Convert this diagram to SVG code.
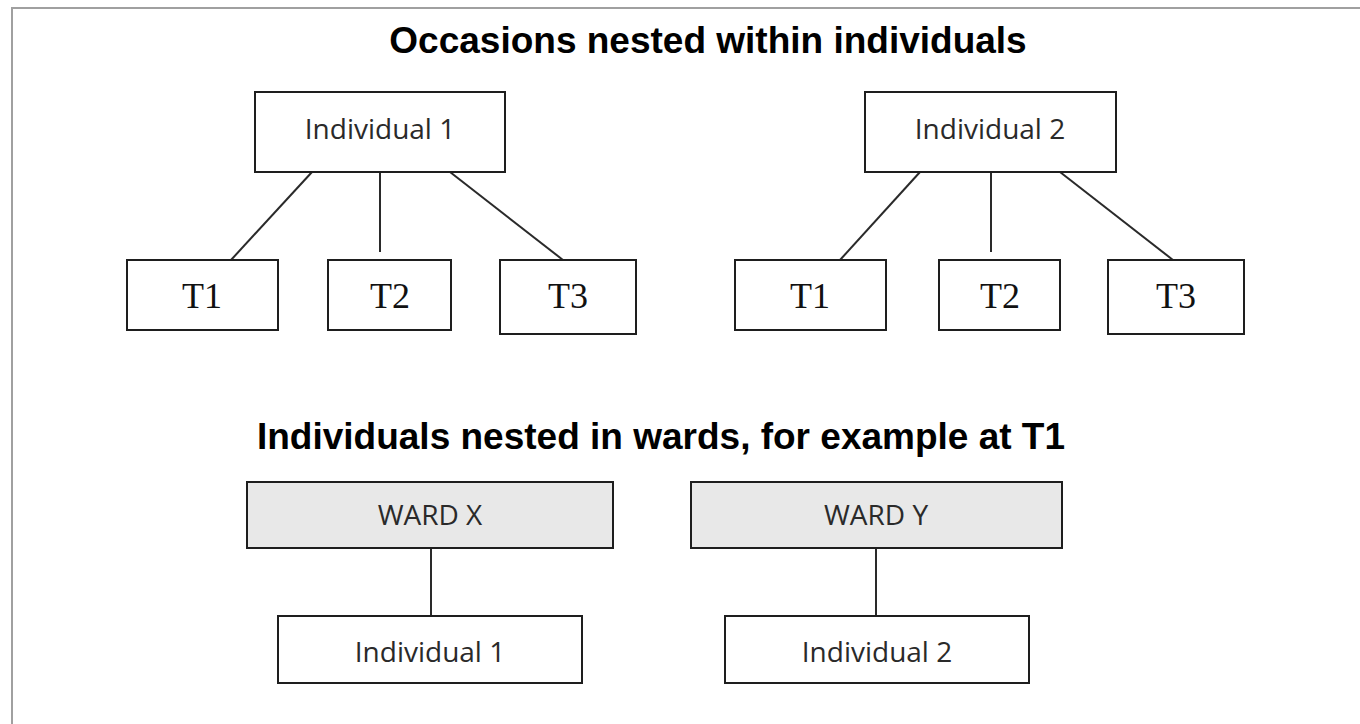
<svg xmlns="http://www.w3.org/2000/svg" width="1360" height="724" viewBox="0 0 1360 724">
<style>
.box{fill:#fff;stroke:#1e1e1e;stroke-width:2}
.ward{fill:#e8e8e8;stroke:#1e1e1e;stroke-width:2}
.lbl{font-family:"Open Sans","Liberation Sans",sans-serif;font-size:28px;fill:#2a2a2a;text-anchor:middle}
.t{font-family:"Liberation Serif","Times New Roman",serif;font-size:36px;fill:#111;text-anchor:middle}
.title{font-family:"Liberation Sans",Arial,sans-serif;font-weight:bold;font-size:37px;fill:#000;text-anchor:middle}
.conn line{stroke:#2a2a2a;stroke-width:2}
</style>
<rect x="0" y="0" width="1360" height="724" fill="#fff"/>
<path d="M1360 8 H12 V724" fill="none" stroke="#a0a0a0" stroke-width="2"/>
<text class="title" x="708" y="53">Occasions nested within individuals</text>
<text class="title" x="661" y="449">Individuals nested in wards, for example at T1</text>
<g id="connectors" class="conn">
<line x1="312" y1="172" x2="231" y2="260"/>
<line x1="380" y1="172" x2="380" y2="252"/>
<line x1="450" y1="172" x2="563" y2="260"/>
<line x1="920" y1="172" x2="840" y2="260"/>
<line x1="991" y1="172" x2="991" y2="252"/>
<line x1="1060" y1="172" x2="1173" y2="260"/>
<line x1="431" y1="548" x2="431" y2="616"/>
<line x1="876" y1="548" x2="876" y2="616"/>
</g>
<g id="ind1"><rect class="box" x="255" y="92" width="250" height="80"/><text class="lbl" x="380" y="139">Individual 1</text></g>
<g id="ind2"><rect class="box" x="865" y="92" width="251" height="80"/><text class="lbl" x="990" y="139">Individual 2</text></g>
<g id="i1t1"><rect class="box" x="127" y="260" width="151" height="70"/><text class="t" x="202" y="308">T1</text></g>
<g id="i1t2"><rect class="box" x="328" y="260" width="123" height="70"/><text class="t" x="390" y="308">T2</text></g>
<g id="i1t3"><rect class="box" x="500" y="260" width="136" height="74"/><text class="t" x="568" y="308">T3</text></g>
<g id="i2t1"><rect class="box" x="735" y="260" width="151" height="70"/><text class="t" x="810" y="308">T1</text></g>
<g id="i2t2"><rect class="box" x="939" y="260" width="121" height="70"/><text class="t" x="1000" y="308">T2</text></g>
<g id="i2t3"><rect class="box" x="1108" y="260" width="136" height="74"/><text class="t" x="1176" y="308">T3</text></g>
<g id="wardx"><rect class="ward" x="247" y="482" width="366" height="66"/><text class="lbl" x="430" y="525">WARD X</text></g>
<g id="wardy"><rect class="ward" x="691" y="482" width="371" height="66"/><text class="lbl" x="876" y="525">WARD Y</text></g>
<g id="wx_ind1"><rect class="box" x="278" y="616" width="304" height="67"/><text class="lbl" x="430" y="662">Individual 1</text></g>
<g id="wy_ind2"><rect class="box" x="725" y="616" width="304" height="67"/><text class="lbl" x="877" y="662">Individual 2</text></g>
</svg>
